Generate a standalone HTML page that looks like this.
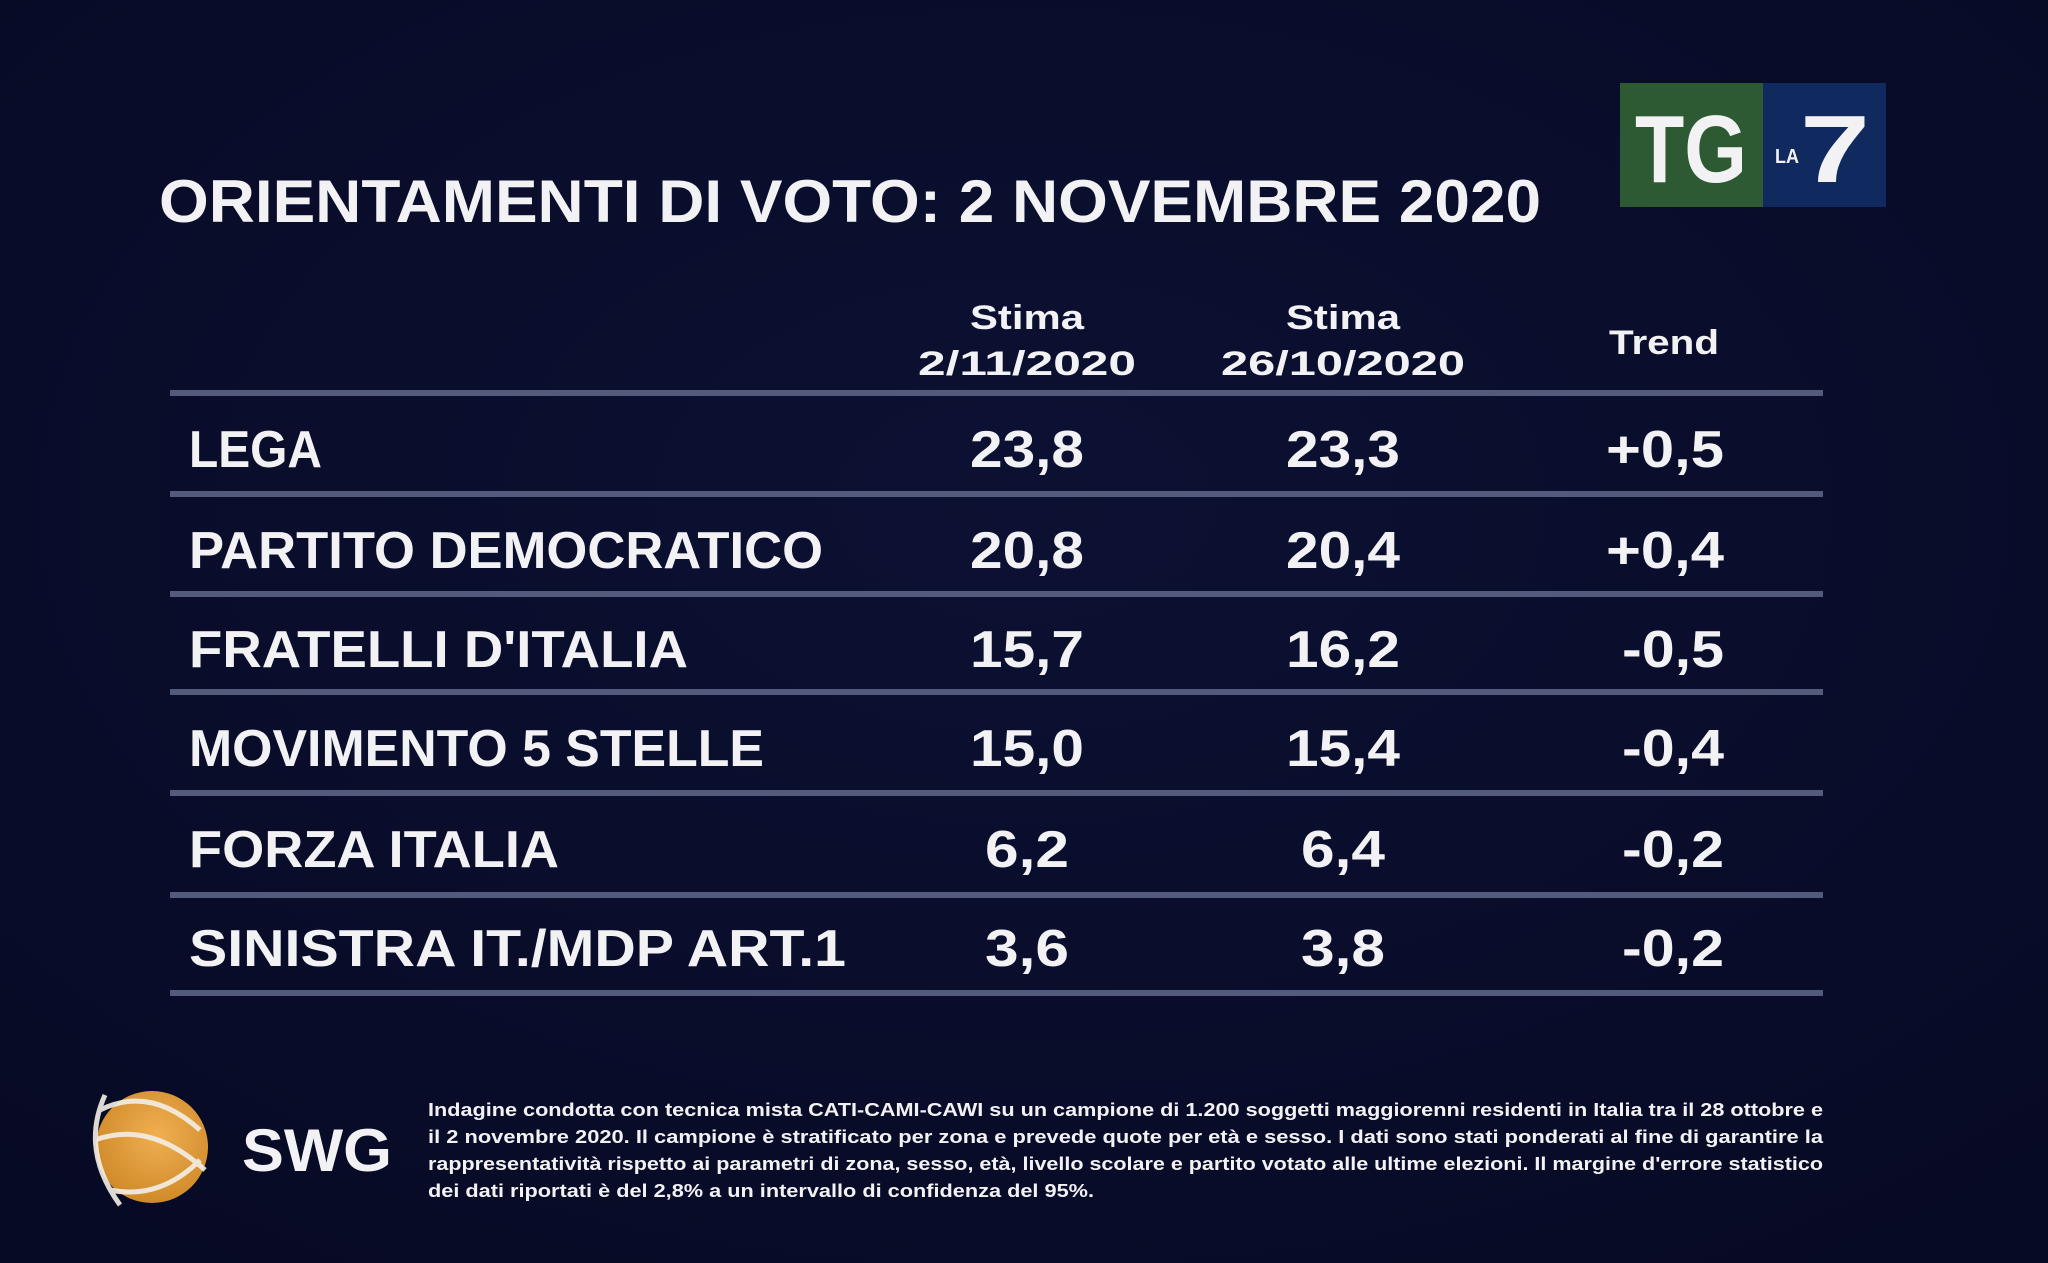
<!DOCTYPE html>
<html><head><meta charset="utf-8"><style>
html,body{margin:0;padding:0;background:#090d2a;}
svg{display:block}
text{font-family:"Liberation Sans",sans-serif;font-weight:bold;fill:#f2f2f4}
</style></head><body>
<svg width="2048" height="1263" viewBox="0 0 2048 1263" xmlns="http://www.w3.org/2000/svg">
<defs>
<radialGradient id="bg" cx="50%" cy="40%" r="75%">
<stop offset="0" stop-color="#0c1133"/><stop offset="1" stop-color="#070a24"/>
</radialGradient>
<radialGradient id="orb" cx="55%" cy="40%" r="60%">
<stop offset="0" stop-color="#f0b050"/><stop offset="1" stop-color="#d08a2a"/>
</radialGradient>
</defs>
<rect width="2048" height="1263" fill="url(#bg)"/>

<!-- TG LA7 logo -->
<rect x="1620" y="83" width="143" height="124" fill="#2e5a33"/>
<rect x="1763" y="83" width="123" height="124" fill="#10295e"/>
<text x="1635" y="182" font-size="96" textLength="112" lengthAdjust="spacingAndGlyphs">TG</text>
<text x="1775" y="163" font-size="20" fill="#cfd3de" textLength="24" lengthAdjust="spacingAndGlyphs">LA</text>
<text x="1800" y="182" font-size="96" textLength="70" lengthAdjust="spacingAndGlyphs">7</text>

<!-- Title -->
<text x="159" y="222" font-size="60" textLength="1382" lengthAdjust="spacingAndGlyphs">ORIENTAMENTI DI VOTO: 2 NOVEMBRE 2020</text>

<!-- Header -->
<g font-size="34" text-anchor="middle">
<text x="1027" y="329" textLength="114" lengthAdjust="spacingAndGlyphs">Stima</text>
<text x="1027" y="375" textLength="218" lengthAdjust="spacingAndGlyphs">2/11/2020</text>
<text x="1343" y="329" textLength="114" lengthAdjust="spacingAndGlyphs">Stima</text>
<text x="1343" y="375" textLength="244" lengthAdjust="spacingAndGlyphs">26/10/2020</text>
<text x="1664" y="354" textLength="110" lengthAdjust="spacingAndGlyphs">Trend</text>
</g>

<!-- Lines -->
<g fill="#535a7c">
<rect x="170" y="390" width="1653" height="6"/>
<rect x="170" y="491" width="1653" height="6"/>
<rect x="170" y="591" width="1653" height="6"/>
<rect x="170" y="689" width="1653" height="6"/>
<rect x="170" y="790" width="1653" height="6"/>
<rect x="170" y="892" width="1653" height="6"/>
<rect x="170" y="990" width="1653" height="6"/>
</g>

<!-- Rows -->
<g font-size="52">
<text x="189" y="467" textLength="133" lengthAdjust="spacingAndGlyphs">LEGA</text>
<text x="189" y="568" textLength="634" lengthAdjust="spacingAndGlyphs">PARTITO DEMOCRATICO</text>
<text x="189" y="667" textLength="499" lengthAdjust="spacingAndGlyphs">FRATELLI D'ITALIA</text>
<text x="189" y="766" textLength="575" lengthAdjust="spacingAndGlyphs">MOVIMENTO 5 STELLE</text>
<text x="189" y="867" textLength="370" lengthAdjust="spacingAndGlyphs">FORZA ITALIA</text>
<text x="189" y="966" textLength="657" lengthAdjust="spacingAndGlyphs">SINISTRA IT./MDP ART.1</text>
</g>
<g font-size="52" text-anchor="middle">
<text x="1027" y="467" textLength="114" lengthAdjust="spacingAndGlyphs">23,8</text>
<text x="1027" y="568" textLength="114" lengthAdjust="spacingAndGlyphs">20,8</text>
<text x="1027" y="667" textLength="114" lengthAdjust="spacingAndGlyphs">15,7</text>
<text x="1027" y="766" textLength="114" lengthAdjust="spacingAndGlyphs">15,0</text>
<text x="1027" y="867" textLength="84" lengthAdjust="spacingAndGlyphs">6,2</text>
<text x="1027" y="966" textLength="84" lengthAdjust="spacingAndGlyphs">3,6</text>
<text x="1343" y="467" textLength="114" lengthAdjust="spacingAndGlyphs">23,3</text>
<text x="1343" y="568" textLength="114" lengthAdjust="spacingAndGlyphs">20,4</text>
<text x="1343" y="667" textLength="114" lengthAdjust="spacingAndGlyphs">16,2</text>
<text x="1343" y="766" textLength="114" lengthAdjust="spacingAndGlyphs">15,4</text>
<text x="1343" y="867" textLength="84" lengthAdjust="spacingAndGlyphs">6,4</text>
<text x="1343" y="966" textLength="84" lengthAdjust="spacingAndGlyphs">3,8</text>
</g>
<g font-size="52">
<text x="1606" y="467" textLength="118" lengthAdjust="spacingAndGlyphs">+0,5</text>
<text x="1606" y="568" textLength="118" lengthAdjust="spacingAndGlyphs">+0,4</text>
<text x="1622" y="667" textLength="102" lengthAdjust="spacingAndGlyphs">-0,5</text>
<text x="1622" y="766" textLength="102" lengthAdjust="spacingAndGlyphs">-0,4</text>
<text x="1622" y="867" textLength="102" lengthAdjust="spacingAndGlyphs">-0,2</text>
<text x="1622" y="966" textLength="102" lengthAdjust="spacingAndGlyphs">-0,2</text>
</g>

<!-- SWG logo -->
<circle cx="152" cy="1147" r="56" fill="url(#orb)"/>
<g fill="none" stroke="#f4efe6" stroke-width="5" opacity="0.9">
<path d="M100 1110 Q150 1085 200 1130"/>
<path d="M95 1140 Q150 1120 205 1170"/>
<path d="M110 1190 Q160 1200 200 1160"/>
<path d="M105 1095 Q80 1150 120 1205"/>
</g>
<text x="242" y="1171" font-size="60" textLength="150" lengthAdjust="spacingAndGlyphs">SWG</text>

<!-- Footnote -->
<g font-size="18" style="fill:#d8dae2">
<text x="428" y="1116" textLength="1395" lengthAdjust="spacingAndGlyphs">Indagine condotta con tecnica mista CATI-CAMI-CAWI su un campione di 1.200 soggetti maggiorenni residenti in Italia tra il 28 ottobre e</text>
<text x="428" y="1143" textLength="1395" lengthAdjust="spacingAndGlyphs">il 2 novembre 2020. Il campione è stratificato per zona e prevede quote per età e sesso. I dati sono stati ponderati al fine di garantire la</text>
<text x="428" y="1170" textLength="1395" lengthAdjust="spacingAndGlyphs">rappresentatività rispetto ai parametri di zona, sesso, età, livello scolare e partito votato alle ultime elezioni. Il margine d'errore statistico</text>
<text x="428" y="1197" textLength="666" lengthAdjust="spacingAndGlyphs">dei dati riportati è del 2,8% a un intervallo di confidenza del 95%.</text>
</g>
</svg>
</body></html>
